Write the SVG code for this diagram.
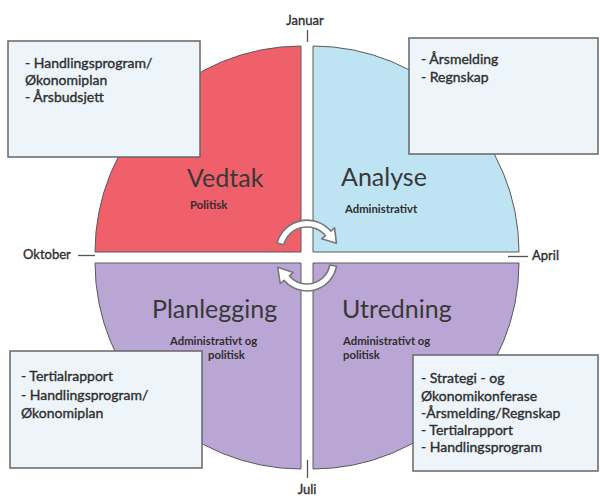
<svg xmlns="http://www.w3.org/2000/svg" width="600" height="498" viewBox="0 0 600 498">
<style>
.q{stroke:#5a5a5a;stroke-width:1}
.box{fill:#edf5fb;stroke:#666;stroke-width:1.5}
.t{font-family:Lato,"Open Sans","Liberation Sans",sans-serif;fill:#2e2e2e}
.title{font-size:25px;fill:#383838}
.sub{font-size:11.3px;font-weight:bold}
.bt{font-size:14px;stroke:#2e2e2e;stroke-width:0.35}
.m{font-size:13px;stroke:#2e2e2e;stroke-width:0.35}
.tick{stroke:#555;stroke-width:1.3}
.arr{fill:#ffffff;stroke:#777;stroke-width:1.6;stroke-linejoin:round}
</style>
<rect width="600" height="498" fill="#ffffff"/>
<g id="vedtak">
<path class="q" d="M301 252 L95 252 A206 206 0 0 1 301 46 Z" fill="#f0606a"/>
</g>
<g id="analyse">
<path class="q" d="M313 252 L313 46 A206 206 0 0 1 519 252 Z" fill="#bee4f4"/>
</g>
<g id="planlegging">
<path class="q" d="M301 263 L301 469 A206 206 0 0 1 95 263 Z" fill="#baa6d4"/>
</g>
<g id="utredning">
<path class="q" d="M313 263 L519 263 A206 206 0 0 1 313 469 Z" fill="#baa6d4"/>
</g>
<g id="connectors">
<path class="arr" d="M277.1 243 A31 31 0 0 1 330.7 231.1 L334.6 227.9 L336.4 243.2 L321.6 238.8 L325.4 235.6 A24 24 0 0 0 283.8 244.8 Z"/>
<path class="arr" d="M336.5 266.2 A30 30 0 0 1 284 280.3 L280.2 283.5 L277.7 267.3 L293.2 272.6 L289.4 275.8 A23 23 0 0 0 329.7 265 Z"/>
</g>
<g id="months">
<line class="tick" x1="307.5" y1="30" x2="307.5" y2="42"/>
<text class="t m" x="305" y="25" text-anchor="middle">Januar</text>
<line class="tick" x1="307.5" y1="460" x2="307.5" y2="478"/>
<text class="t m" x="307" y="494" text-anchor="middle">Juli</text>
<line class="tick" x1="78" y1="255.5" x2="95" y2="255.5"/>
<text class="t m" x="23" y="259">Oktober</text>
<line class="tick" x1="508" y1="256.5" x2="528" y2="256.5"/>
<text class="t m" x="532" y="260">April</text>
</g>
<g id="labels">
<text class="t title" x="187" y="187">Vedtak</text>
<text class="t sub" x="190" y="209">Politisk</text>
<text class="t title" x="341" y="186">Analyse</text>
<text class="t sub" x="345" y="213">Administrativt</text>
<text class="t title" x="152" y="318">Planlegging</text>
<text class="t sub" x="170" y="345">Administrativt og</text>
<text class="t sub" x="208" y="359">politisk</text>
<text class="t title" x="342" y="318">Utredning</text>
<text class="t sub" x="343" y="345">Administrativt og</text>
<text class="t sub" x="343" y="359">politisk</text>
</g>
<g id="box-vedtak">
<rect class="box" x="8" y="41" width="192" height="116"/>
<text class="t bt" x="25" y="68">- Handlingsprogram/</text>
<text class="t bt" x="25" y="85">Økonomiplan</text>
<text class="t bt" x="25" y="102">- Årsbudsjett</text>
</g>
<g id="box-analyse">
<rect class="box" x="409" y="38" width="189" height="116"/>
<text class="t bt" x="421" y="64">- Årsmelding</text>
<text class="t bt" x="421" y="82">- Regnskap</text>
</g>
<g id="box-planlegging">
<rect class="box" x="10" y="351" width="192" height="117"/>
<text class="t bt" x="21" y="381">- Tertialrapport</text>
<text class="t bt" x="21" y="400">- Handlingsprogram/</text>
<text class="t bt" x="21" y="418">Økonomiplan</text>
</g>
<g id="box-utredning">
<rect class="box" x="413" y="355" width="185" height="116"/>
<text class="t bt" x="421" y="383">- Strategi - og</text>
<text class="t bt" x="421" y="401">Økonomikonferase</text>
<text class="t bt" x="421" y="418">-Årsmelding/Regnskap</text>
<text class="t bt" x="421" y="435">- Tertialrapport</text>
<text class="t bt" x="421" y="452">- Handlingsprogram</text>
</g>
</svg>
